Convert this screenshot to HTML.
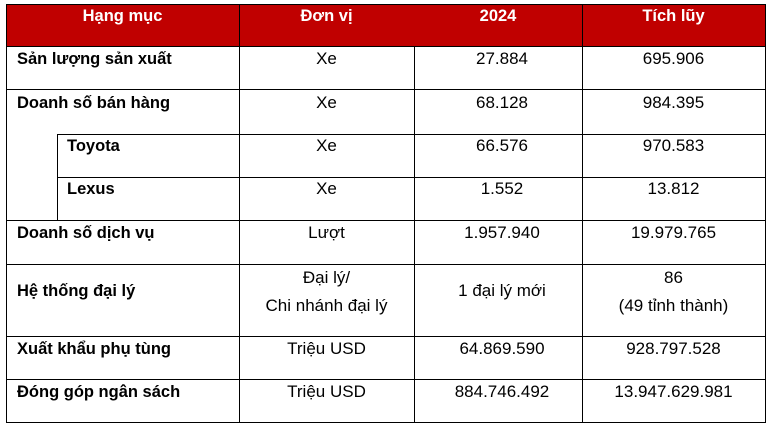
<!DOCTYPE html>
<html><head><meta charset="utf-8"><style>
html,body{margin:0;padding:0;background:#fff;width:771px;height:432px;overflow:hidden}
body{font-family:"Liberation Sans",Arial,sans-serif;font-size:17px;color:#000;position:relative}
.hd{position:absolute;left:6px;top:4px;width:759px;height:42px;background:#c00000}
.h{position:absolute;top:7px;color:#fff;font-weight:bold;text-align:center;font-size:16.5px}
.l{position:absolute;background:#000}
.t{position:absolute;text-align:center;line-height:18px;white-space:nowrap}
.b{font-weight:bold;text-align:left;font-size:16.5px}
</style></head><body>
<div class="hd"></div>
<div class="h" style="left:6px;width:233px">Hạng mục</div>
<div class="h" style="left:239px;width:175px">Đơn vị</div>
<div class="h" style="left:414px;width:168px">2024</div>
<div class="h" style="left:582px;width:183px">Tích lũy</div>
<div class="l" style="left:6px;top:4px;width:1px;height:419px"></div>
<div class="l" style="left:239px;top:4px;width:1px;height:419px"></div>
<div class="l" style="left:414px;top:46px;width:1px;height:377px"></div>
<div class="l" style="left:582px;top:4px;width:1px;height:419px"></div>
<div class="l" style="left:765px;top:4px;width:1px;height:419px"></div>
<div class="l" style="left:57px;top:134px;width:1px;height:86px"></div>
<div class="l" style="left:6px;top:4px;width:760px;height:1px"></div>
<div class="l" style="left:6px;top:46px;width:760px;height:1px"></div>
<div class="l" style="left:6px;top:89px;width:760px;height:1px"></div>
<div class="l" style="left:57px;top:134px;width:709px;height:1px"></div>
<div class="l" style="left:57px;top:177px;width:709px;height:1px"></div>
<div class="l" style="left:6px;top:220px;width:760px;height:1px"></div>
<div class="l" style="left:6px;top:264px;width:760px;height:1px"></div>
<div class="l" style="left:6px;top:336px;width:760px;height:1px"></div>
<div class="l" style="left:6px;top:379px;width:760px;height:1px"></div>
<div class="l" style="left:6px;top:422px;width:760px;height:1px"></div>

<div class="t b" style="left:17px;top:50px">Sản lượng sản xuất</div>
<div class="t" style="left:239px;width:175px;top:50px">Xe</div>
<div class="t" style="left:418px;width:168px;top:50px">27.884</div>
<div class="t" style="left:582px;width:183px;top:50px">695.906</div>

<div class="t b" style="left:17px;top:94px">Doanh số bán hàng</div>
<div class="t" style="left:239px;width:175px;top:94px">Xe</div>
<div class="t" style="left:418px;width:168px;top:94px">68.128</div>
<div class="t" style="left:582px;width:183px;top:94px">984.395</div>

<div class="t b" style="left:67px;top:137px">Toyota</div>
<div class="t" style="left:239px;width:175px;top:137px">Xe</div>
<div class="t" style="left:418px;width:168px;top:137px">66.576</div>
<div class="t" style="left:582px;width:183px;top:137px">970.583</div>

<div class="t b" style="left:67px;top:180px">Lexus</div>
<div class="t" style="left:239px;width:175px;top:180px">Xe</div>
<div class="t" style="left:418px;width:168px;top:180px">1.552</div>
<div class="t" style="left:582px;width:183px;top:180px">13.812</div>

<div class="t b" style="left:17px;top:224px">Doanh số dịch vụ</div>
<div class="t" style="left:239px;width:175px;top:224px">Lượt</div>
<div class="t" style="left:418px;width:168px;top:224px">1.957.940</div>
<div class="t" style="left:582px;width:183px;top:224px">19.979.765</div>

<div class="t b" style="left:17px;top:282px">Hệ thống đại lý</div>
<div class="t" style="left:239px;width:175px;top:264px;line-height:28px">Đại lý/<br>Chi nhánh đại lý</div>
<div class="t" style="left:418px;width:168px;top:282px">1 đại lý mới</div>
<div class="t" style="left:582px;width:183px;top:264px;line-height:28px">86<br>(49 tỉnh thành)</div>

<div class="t b" style="left:17px;top:340px">Xuất khẩu phụ tùng</div>
<div class="t" style="left:239px;width:175px;top:340px">Triệu USD</div>
<div class="t" style="left:418px;width:168px;top:340px">64.869.590</div>
<div class="t" style="left:582px;width:183px;top:340px">928.797.528</div>

<div class="t b" style="left:17px;top:383px">Đóng góp ngân sách</div>
<div class="t" style="left:239px;width:175px;top:383px">Triệu USD</div>
<div class="t" style="left:418px;width:168px;top:383px">884.746.492</div>
<div class="t" style="left:582px;width:183px;top:383px">13.947.629.981</div>
</body></html>
